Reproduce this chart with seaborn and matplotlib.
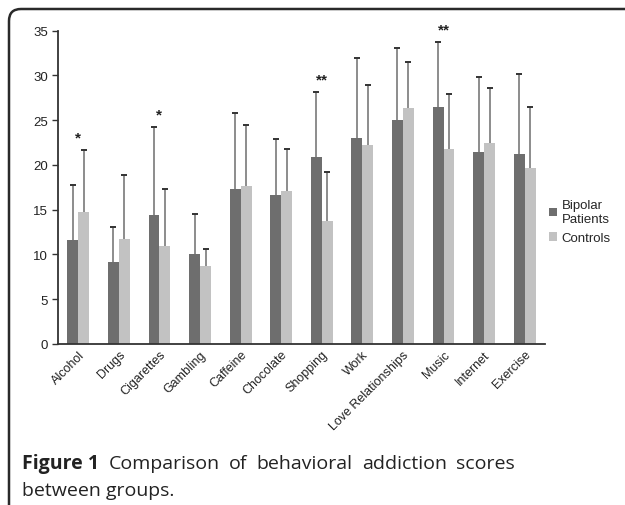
import numpy as np
import pandas as pd
import seaborn as sns
import matplotlib
matplotlib.use("Agg")
import matplotlib.pyplot as plt
from matplotlib.patches import FancyBboxPatch, Patch

# Behavioral addiction scores (mean and SD) per group
categories = ["Alcohol", "Drugs", "Cigarettes", "Gambling", "Caffeine", "Chocolate",
              "Shopping", "Work", "Love Relationships", "Music", "Internet", "Exercise"]
bipolar_mean = [11.6, 9.2, 14.4, 10.0, 17.3, 16.6, 20.9, 23.0, 25.0, 26.5, 21.4, 21.2]
bipolar_sd = [6.2, 3.9, 9.8, 4.5, 8.5, 6.3, 7.3, 8.9, 8.1, 7.2, 8.4, 9.0]
control_mean = [14.7, 11.7, 10.9, 8.7, 17.6, 17.1, 13.7, 22.2, 26.4, 21.8, 22.4, 19.7]
control_sd = [7.0, 7.2, 6.4, 1.9, 6.9, 4.7, 5.5, 6.7, 5.1, 6.1, 6.2, 6.8]
significance = ["*", "", "*", "", "", "", "**", "", "", "**", "", ""]
groups = ["Bipolar Patients", "Controls"]
legend_labels = ["Bipolar\nPatients", "Controls"]

DARK = "#6e6e6e"
LIGHT = "#c2c2c2"

sns.set_theme(style="white")
plt.rcParams["font.family"] = ["Liberation Sans", "DejaVu Sans"]

df = pd.DataFrame({
    "Behavior": categories * 2,
    "Score": bipolar_mean + control_mean,
    "Group": [groups[0]] * len(categories) + [groups[1]] * len(categories),
})

fig = plt.figure(figsize=(6.25, 5.06), dpi=100)
ax = fig.add_axes([58 / 625, 1 - 345 / 506, (545 - 58) / 625, (345 - 31.7) / 506])

sns.barplot(data=df, x="Behavior", y="Score", hue="Group", palette=[DARK, LIGHT],
            width=0.54, gap=0, errorbar=None, saturation=1, ax=ax, legend=False,
            edgecolor="none")

# upward-only error bars: grey stem, dark cap
tops = []
for container, sds in zip(ax.containers, [bipolar_sd, control_sd]):
    col = []
    for bar, sd in zip(container, sds):
        x = bar.get_x() + bar.get_width() / 2
        h = bar.get_height()
        ax.vlines(x, h, h + sd, color="#8c8c8c", lw=1.4, zorder=3)
        ax.plot([x], [h + sd], marker="_", ms=4.5, mew=1.4, color="#333333", zorder=4)
        col.append(h + sd)
    tops.append(col)

# significance markers above each pair
for i, mark in enumerate(significance):
    if mark:
        y = max(tops[0][i], tops[1][i]) + 1.4
        ax.text(i, y, mark, ha="center", va="center", fontsize=11, fontweight="bold",
                color="#222222")

ax.set_ylim(0, 35)
ax.set_xlim(-0.5, len(categories) - 0.5)
ax.set_yticks(range(0, 36, 5))
ax.set_xlabel("")
ax.set_ylabel("")
for s in ["top", "right"]:
    ax.spines[s].set_visible(False)
for s in ["left", "bottom"]:
    ax.spines[s].set_color("#333333")
    ax.spines[s].set_linewidth(1.3)
ax.tick_params(axis="y", direction="out", length=4, width=1, color="#333333",
               labelsize=9.5, labelcolor="#222222", pad=3, left=True)
ax.tick_params(axis="x", length=0, labelsize=9, labelcolor="#222222", pad=3)
plt.setp(ax.get_xticklabels(), rotation=45, ha="right", rotation_mode="anchor")

handles = [Patch(facecolor=DARK, edgecolor="none"), Patch(facecolor=LIGHT, edgecolor="none")]
fig.legend(handles, legend_labels, loc="upper left", bbox_to_anchor=(549 / 625, 1 - 200 / 506),
           frameon=False, fontsize=9.5, handlelength=0.6, handleheight=0.6,
           handletextpad=0.35, labelspacing=0.55, borderpad=0, borderaxespad=0)

# rounded frame around the figure panel
frame = FancyBboxPatch((9, -30), 700, 506 - 10 + 30,
                       boxstyle="round,pad=0,rounding_size=12",
                       transform=None, fill=False, edgecolor="#2a2a2a", lw=1.8)
fig.add_artist(frame)

# caption, first line justified between left and right margins
cap_font = ["Open Sans", "DejaVu Sans"]
cap_size = 14
renderer = fig.canvas.get_renderer()
line1 = [("Figure 1", "bold")] + [(w, "normal") for w in
                                  "Comparison of behavioral addiction scores".split()]
x_left, x_right = 22, 515
texts, widths = [], []
for word, weight in line1:
    t = fig.text(0, 0, word, fontsize=cap_size, fontweight=weight, family=cap_font,
                 color="#222222", transform=None, va="baseline")
    widths.append(t.get_window_extent(renderer).width)
    texts.append(t)
space = (x_right - x_left - sum(widths)) / (len(texts) - 1)
x = x_left
for t, w in zip(texts, widths):
    t.set_position((x, 506 - 469))
    x += w + space
fig.text(x_left, 506 - 496, "between groups.", fontsize=cap_size, family=cap_font,
         color="#222222", transform=None, va="baseline")

fig.savefig("out.png", dpi=100)
